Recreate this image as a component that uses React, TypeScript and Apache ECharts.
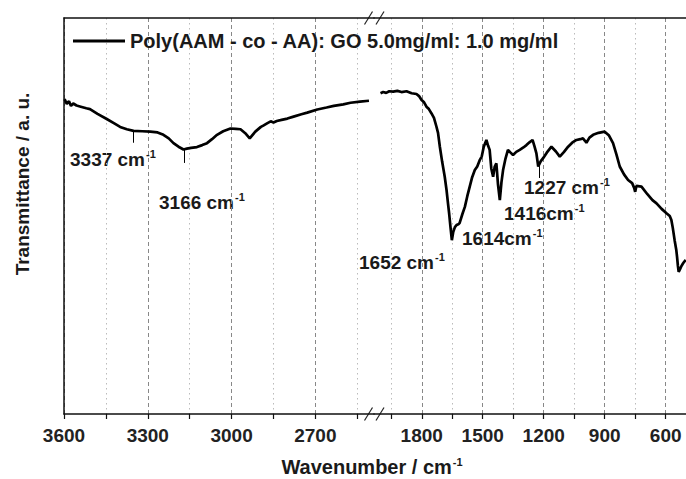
import React, { useEffect, useRef } from "react";
import * as echarts from "echarts";

const seriesName = "Poly(AAM - co - AA): GO 5.0mg/ml: 1.0 mg/ml";

const leftWave = [3598, 3590, 3582, 3575, 3567, 3555, 3540, 3520, 3507, 3480, 3447, 3420, 3399, 3375, 3351, 3320, 3291, 3265, 3244, 3225, 3208, 3190, 3172, 3160, 3145, 3124, 3105, 3088, 3070, 3052, 3030, 3004, 2985, 2968, 2951, 2935, 2915, 2895, 2885, 2873, 2860, 2850, 2838, 2825, 2800, 2778, 2750, 2729, 2693, 2660, 2634, 2600, 2574, 2540, 2508];
const leftT = [79.5, 78.3, 79.0, 77.8, 78.4, 77.9, 77.6, 77.2, 77.0, 75.8, 74.5, 73.4, 72.5, 71.9, 71.5, 71.4, 71.3, 71.1, 70.5, 69.6, 68.4, 67.5, 66.8, 67.0, 67.2, 67.4, 67.9, 68.4, 69.4, 70.5, 71.4, 72.1, 72.0, 71.9, 70.9, 69.6, 71.3, 72.5, 72.9, 73.4, 73.9, 73.6, 74.0, 74.2, 74.6, 75.1, 75.7, 76.1, 76.9, 77.4, 77.8, 78.2, 78.6, 78.9, 79.1];

const rightWave = [2003, 1990, 1975, 1960, 1941, 1920, 1900, 1875, 1850, 1826, 1812, 1801, 1790, 1777, 1765, 1752, 1740, 1728, 1720, 1711, 1700, 1687, 1678, 1671, 1665, 1659, 1652, 1645, 1637, 1629, 1620, 1614, 1600, 1588, 1576, 1564, 1552, 1539, 1527, 1515, 1505, 1495, 1482, 1474, 1466, 1458, 1449, 1441, 1433, 1425, 1416, 1408, 1400, 1388, 1376, 1363, 1351, 1335, 1318, 1300, 1285, 1270, 1255, 1245, 1236, 1227, 1215, 1203, 1185, 1162, 1140, 1121, 1100, 1080, 1060, 1039, 1020, 1007, 997, 990, 975, 957, 930, 900, 880, 859, 842, 826, 805, 785, 765, 755, 750, 744, 719, 690, 665, 645, 620, 596, 580, 572, 565, 556, 548, 544, 540, 536, 530, 524, 515, 508, 501];
const rightT = [81.0, 81.3, 81.1, 81.5, 81.4, 81.6, 81.3, 81.5, 81.0, 80.8, 80.2, 79.3, 78.8, 77.6, 77.0, 75.9, 74.8, 72.6, 71.0, 67.5, 63.8, 59.9, 56.5, 53.2, 50.5, 47.3, 43.9, 46.0, 47.2, 47.7, 47.9, 48.2, 50.5, 52.3, 55.0, 57.4, 59.8, 61.6, 62.5, 64.1, 65.0, 67.5, 69.2, 67.8, 66.7, 62.0, 59.9, 62.5, 63.3, 58.0, 54.0, 58.5, 61.6, 64.5, 66.7, 66.0, 65.4, 66.2, 66.7, 67.3, 67.9, 68.6, 69.2, 67.5, 65.8, 62.5, 63.8, 64.6, 66.0, 67.5, 66.3, 65.0, 66.2, 67.5, 68.5, 69.2, 69.4, 69.6, 69.0, 68.5, 69.8, 70.5, 71.0, 71.3, 70.4, 68.4, 65.5, 62.5, 60.5, 59.1, 58.3, 57.1, 56.1, 57.6, 57.4, 55.5, 54.0, 53.2, 51.8, 50.7, 50.0, 49.0, 47.0, 43.9, 41.5, 39.7, 37.5, 35.9, 36.5, 37.2, 38.0, 38.5, 38.9];

const leftMajor = [3600, 3300, 3000, 2700];
const leftMinor = [3450, 3150, 2850, 2550];
const rightMajor = [1800, 1500, 1200, 900, 600];
const rightMinor = [1950, 1650, 1350, 1050, 750];

// peak marker ticks: [wavenumber, top, bottom]
const leftPeakTicks = [[3353, 71.7, 68.5], [3168, 66.9, 63.4]];
const rightPeakTicks = [[1223, 62.6, 59.6]];
const peakLabels = ["3337 cm", "3166 cm", "1652 cm", "1614cm", "1416cm", "1227 cm"];

const FONT = "'Liberation Sans', Arial, Helvetica, sans-serif";
const AXC = "#111";

function xAxes(gridIndex: number, min: number, max: number, major: number[], minor: number[]) {
  const base = { type: "value", gridIndex, min, max, inverse: true };
  return [
    {
      ...base,
      position: "bottom",
      axisLine: { show: true, onZero: false, lineStyle: { color: AXC, width: 1.5 } },
      axisTick: { show: true, length: 5, customValues: major, lineStyle: { color: AXC, width: 1.2 } },
      axisLabel: { show: true, customValues: major, margin: 12, color: "#222", fontSize: 19, fontWeight: "bold", fontFamily: FONT, formatter: (v: number) => String(v) },
      splitLine: { show: true, lineStyle: { color: "#888", type: [4, 3], width: 1 } },
    },
    {
      ...base,
      position: "bottom",
      axisLine: { show: false, onZero: false },
      axisTick: { show: true, length: 5, customValues: minor, lineStyle: { color: AXC, width: 1.2 } },
      axisLabel: { show: false, customValues: minor },
      splitLine: { show: true, lineStyle: { color: "#bbb", type: [1.5, 3.5], width: 1 } },
    },
    {
      ...base,
      position: "top",
      axisLine: { show: true, onZero: false, lineStyle: { color: AXC, width: 1.5 } },
      axisTick: { show: false },
      axisLabel: { show: false },
      splitLine: { show: false },
    },
  ];
}

const rich = {
  n: { fontSize: 19, fontWeight: "bold", fontFamily: FONT, fill: "#1a1a1a" },
  s: { fontSize: 11, fontWeight: "bold", fontFamily: FONT, fill: "#1a1a1a", padding: [0, 0, 10, 1] },
};

function label(text: string, x: number, y: number, align = "left") {
  return {
    type: "text",
    x,
    y,
    silent: true,
    style: { text: `{n|${text}}{s|-1}`, rich, align, verticalAlign: "middle" },
  };
}

function tickMarks(ticks: number[][]) {
  return {
    silent: true,
    symbol: "none",
    label: { show: false },
    lineStyle: { color: "#000", width: 1, type: "solid" },
    data: ticks.map((t) => [{ coord: [t[0], t[1]] }, { coord: [t[0], t[2]] }]),
  };
}

export default function App() {
  const ref = useRef<HTMLDivElement>(null);
  useEffect(() => {
    const chart = echarts.init(ref.current!, null, { renderer: "svg" });
    const slash = (cx: number, cy: number) => ({
      type: "line",
      silent: true,
      shape: { x1: cx - 4, y1: cy + 6.5, x2: cx + 4, y2: cy - 6.5 },
      style: { stroke: "#222", lineWidth: 1.2 },
    });
    const option: any = {
      animation: false,
      backgroundColor: "#fff",
      grid: [
        { left: 64, top: 18, width: 310, bottom: 65 },
        { left: 374, top: 18, right: 0, bottom: 65 },
      ],
      xAxis: [...xAxes(0, 2490, 3600, leftMajor, leftMinor), ...xAxes(1, 500, 2035, rightMajor, rightMinor)],
      yAxis: [
        { type: "value", gridIndex: 0, min: 0, max: 100, axisLine: { show: true, lineStyle: { color: AXC, width: 1.5 } }, axisTick: { show: false }, axisLabel: { show: false }, splitLine: { show: false } },
        { type: "value", gridIndex: 1, min: 0, max: 100, axisLine: { show: false }, axisTick: { show: false }, axisLabel: { show: false }, splitLine: { show: false } },
      ],
      legend: {
        data: [{ name: seriesName, icon: "rect" }],
        left: 73,
        top: 31,
        padding: 0,
        itemWidth: 52,
        itemHeight: 3,
        itemGap: 5,
        itemStyle: { color: "#000" },
        textStyle: { fontSize: 20, fontWeight: "bold", fontFamily: FONT, color: "#1a1a1a" },
      },
      series: [
        {
          name: seriesName,
          type: "line",
          xAxisIndex: 0,
          yAxisIndex: 0,
          symbol: "none",
          data: leftWave.map((w, i) => [w, leftT[i]]),
          lineStyle: { color: "#000", width: 2.7 },
          itemStyle: { color: "#000" },
          markLine: tickMarks(leftPeakTicks),
        },
        {
          name: seriesName,
          type: "line",
          xAxisIndex: 3,
          yAxisIndex: 1,
          symbol: "none",
          data: rightWave.map((w, i) => [w, rightT[i]]),
          lineStyle: { color: "#000", width: 2.7 },
          itemStyle: { color: "#000" },
          markLine: tickMarks(rightPeakTicks),
        },
      ],
      graphic: [
        slash(368.5, 18),
        slash(380, 18),
        slash(368.5, 414),
        slash(380, 414),
        label(peakLabels[0], 70, 159),
        label(peakLabels[1], 159, 202),
        label(peakLabels[2], 359, 262),
        label(peakLabels[3], 462, 238),
        label(peakLabels[4], 504, 213),
        label(peakLabels[5], 524, 187),
        {
          type: "text",
          x: 372,
          y: 467,
          silent: true,
          style: { text: "{n|Wavenumber / cm}{s|-1}", rich: { n: { ...rich.n, fontSize: 20 }, s: rich.s }, align: "center", verticalAlign: "middle" },
        },
        {
          type: "text",
          x: 22,
          y: 184,
          rotation: Math.PI / 2,
          silent: true,
          style: { text: "Transmittance / a. u.", font: `bold 19px ${FONT}`, fill: "#1a1a1a", align: "center", verticalAlign: "middle" },
        },
      ],
    };
    chart.setOption(option);
    return () => chart.dispose();
  }, []);
  return <div ref={ref} style={{ position: "absolute", left: 0, top: 0, width: 686, height: 479 }} />;
}
